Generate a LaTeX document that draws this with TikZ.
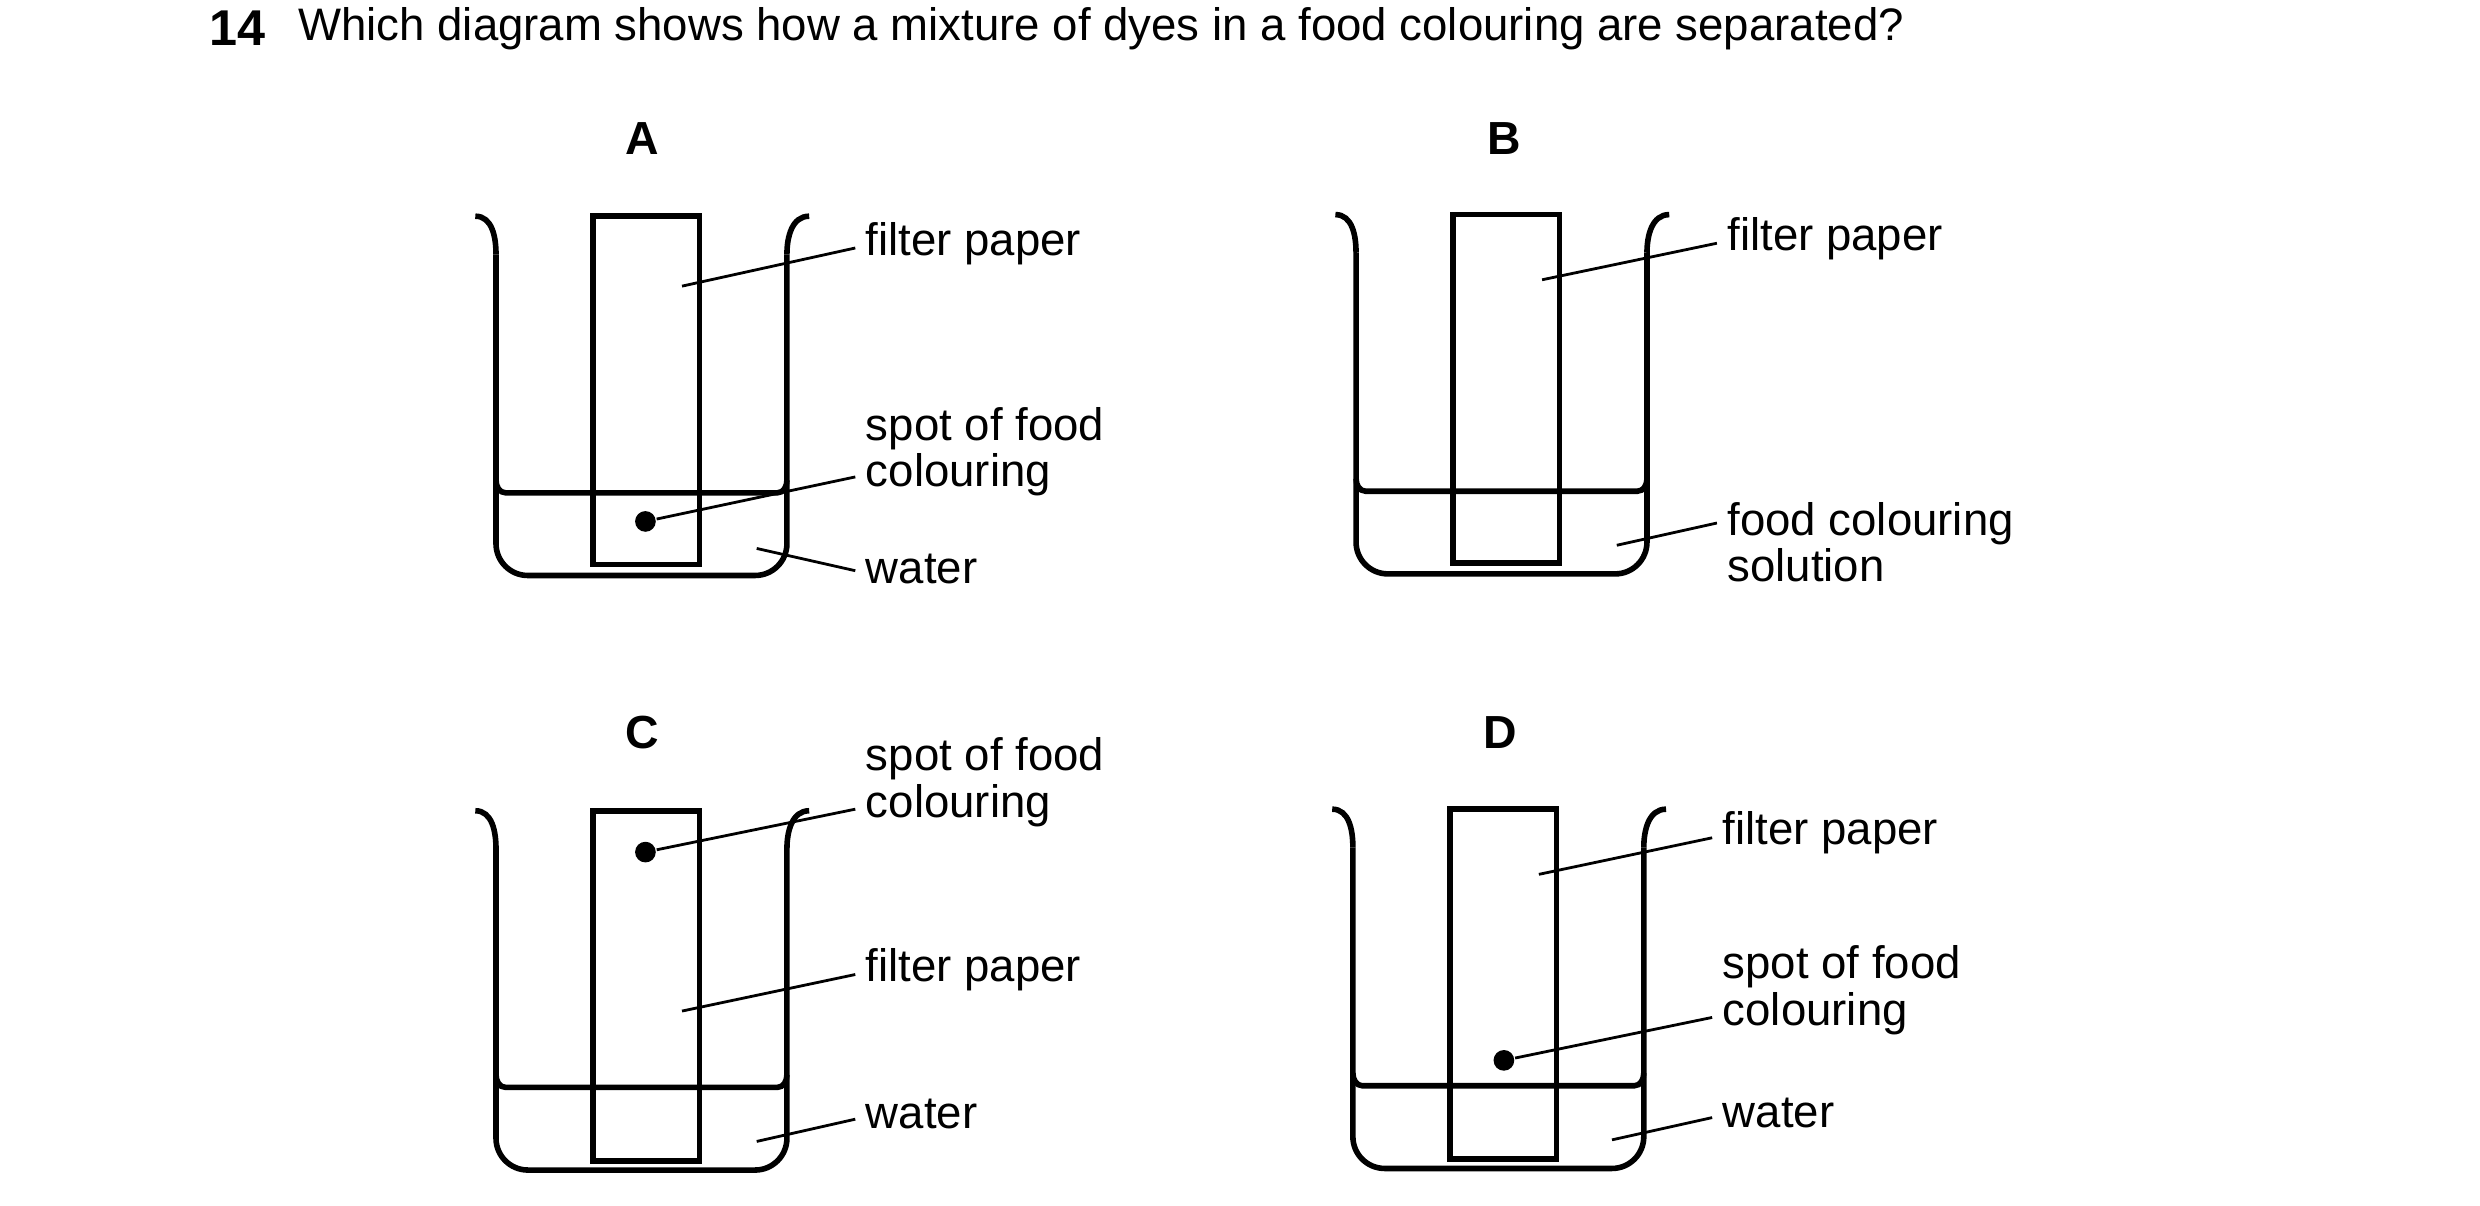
\documentclass[tikz,border=0pt]{standalone}
\usepackage{fontspec}
\setmainfont{Liberation Sans}
\usetikzlibrary{positioning}

\tikzset{
  wall/.style={line width=1pt},
  paper/.style={draw,line width=1pt,minimum width=0.67cm,anchor=north west,inner sep=0pt,outer sep=0pt},
  spot/.style={circle,fill,inner sep=0pt,minimum size=0.13cm},
  leader/.style={line width=0.5pt},
  lbl/.style={anchor=west,inner sep=0pt,align=left,font=\fontsize{8.15}{8.3}\selectfont},
  ttl/.style={font=\fontsize{8.3}{9}\selectfont\bfseries},
  pics/beaker/.style={code={
    \draw[wall] (0,0) to[out=0,in=90] (13,24);
    \draw[wall,rounded corners=0.2cm] (13,24) -- (13,226) -- (196,226) -- (196,24);
    \draw[wall] (196,24) to[out=90,in=180] (210,0);
    \draw[wall] (13,166) to[out=-90,in=180] (19,174) -- (190,174) to[out=0,in=-90] (196,166);
  }}
}

\begin{document}
\begin{tikzpicture}[x=0.01cm,y=-0.01cm]
\useasboundingbox (0,0) rectangle (1560,758.6);

\node[font=\fontsize{9}{9}\selectfont\bfseries,anchor=west,inner sep=0pt] (num) at (131,18) {14};
\node[anchor=west,inner sep=0pt,font=\fontsize{8.15}{9}\selectfont] (q) at (187,18)
  {Which diagram shows how a mixture of dyes in a food colouring are separated?};

% A
\node[ttl] (tA) at (404,87) {A};
\pic at (299,136) {beaker};
\node[paper,minimum height=2.19cm] (pA) at (373,136) {};
\node[spot] (sA) at (406,328) {};
\coordinate (fA) at (429,180);
\coordinate (wA) at (476,345);
\node[lbl] (lfA) at (544,153) {filter paper};
\node[lbl] (lsA) at (544,284) {spot of food\\colouring};
\node[lbl] (lwA) at (544,358) {water};
\draw[leader] (fA) -- (538,156);
\draw[leader] (sA) -- (538,300);
\draw[leader] (wA) -- (538,359);

% B
\node[ttl] (tB) at (946,87) {B};
\pic at (840,135) {beaker};
\node[paper,minimum height=2.19cm] (pB) at (914,135) {};
\coordinate (fB) at (970,176);
\coordinate (cB) at (1017,343);
\node[lbl] (lfB) at (1086,150) {filter paper};
\node[lbl] (lcB) at (1086,341) {food colouring\\solution};
\draw[leader] (fB) -- (1080,153);
\draw[leader] (cB) -- (1080,329);

% C
\node[ttl] (tC) at (404,461) {C};
\pic at (299,510) {beaker};
\node[paper,minimum height=2.2cm] (pC) at (373,510) {};
\node[spot] (sC) at (406,536) {};
\coordinate (fC) at (429,636);
\coordinate (wC) at (476,718);
\node[lbl] (lsC) at (544,492) {spot of food\\colouring};
\node[lbl] (lfC) at (544,610) {filter paper};
\node[lbl] (lwC) at (544,701) {water};
\draw[leader] (sC) -- (538,509);
\draw[leader] (fC) -- (538,613);
\draw[leader] (wC) -- (538,704);

% D
\node[ttl] (tD) at (944,461) {D};
\pic at (838,509) {beaker};
\node[paper,minimum height=2.2cm] (pD) at (912,509) {};
\node[spot] (sD) at (946,667) {};
\coordinate (fD) at (968,550);
\coordinate (wD) at (1014,717);
\node[lbl] (lfD) at (1083,524) {filter paper};
\node[lbl] (lsD) at (1083,623) {spot of food\\colouring};
\node[lbl] (lwD) at (1083,700) {water};
\draw[leader] (fD) -- (1077,527);
\draw[leader] (sD) -- (1077,640);
\draw[leader] (wD) -- (1077,703);
\end{tikzpicture}
\end{document}
